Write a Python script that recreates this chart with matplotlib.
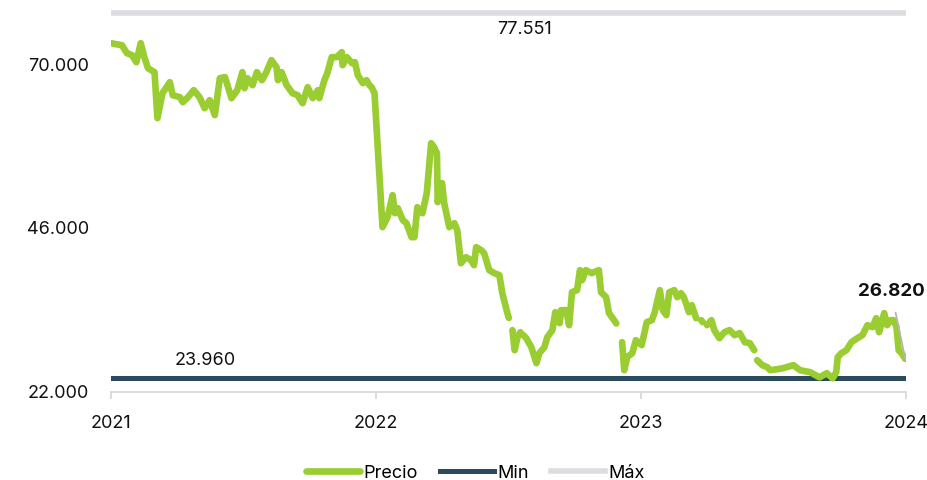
import matplotlib
matplotlib.use("Agg")
import matplotlib.pyplot as plt
import numpy as np
import pandas as pd

plt.rcParams['font.family'] = ['Inter', 'DejaVu Sans']

# price series, NaN = gap in the line
dates = [
    '2021-01-01', '2021-01-08', '2021-01-16', '2021-01-23', '2021-01-30', '2021-02-05',
    '2021-02-11', '2021-02-16', '2021-02-21', '2021-03-02', '2021-03-06', '2021-03-13',
    '2021-03-23', '2021-03-27', '2021-04-06', '2021-04-10', '2021-04-17', '2021-04-25',
    '2021-05-03', '2021-05-10', '2021-05-17', '2021-05-24', '2021-05-31', '2021-06-07',
    '2021-06-16', '2021-06-24', '2021-07-01', '2021-07-04', '2021-07-08', '2021-07-15',
    '2021-07-21', '2021-07-28', '2021-08-03', '2021-08-10', '2021-08-17', '2021-08-19',
    '2021-08-24', '2021-08-31', '2021-09-08', '2021-09-15', '2021-09-22', '2021-09-29',
    '2021-10-06', '2021-10-13', '2021-10-15', '2021-10-22', '2021-10-26', '2021-11-01',
    '2021-11-08', '2021-11-15', '2021-11-16', '2021-11-22', '2021-11-29', '2021-12-03',
    '2021-12-07', '2021-12-14', '2021-12-19', '2021-12-23', '2021-12-26', '2021-12-30',
    '2022-01-10', '2022-01-17', '2022-01-24', '2022-01-27', '2022-01-31', '2022-02-07',
    '2022-02-12', '2022-02-19', '2022-02-23', '2022-02-27', '2022-03-06', '2022-03-12',
    '2022-03-18', '2022-03-22', '2022-03-26', '2022-03-27', '2022-04-02', '2022-04-05',
    '2022-04-12', '2022-04-19', '2022-04-23', '2022-04-28', '2022-05-05', '2022-05-12',
    '2022-05-16', '2022-05-19', '2022-05-26', '2022-05-30', '2022-06-06', '2022-06-13',
    '2022-06-20', '2022-06-24', '2022-07-01', '2022-07-03', '2022-07-05', '2022-07-08',
    '2022-07-11', '2022-07-15', '2022-07-19', '2022-07-21', '2022-07-23', '2022-07-27',
    '2022-08-03', '2022-08-10', '2022-08-14', '2022-08-21', '2022-08-25', '2022-09-01',
    '2022-09-05', '2022-09-11', '2022-09-13', '2022-09-20', '2022-09-24', '2022-09-28',
    '2022-10-05', '2022-10-09', '2022-10-12', '2022-10-17', '2022-10-25', '2022-11-04',
    '2022-11-07', '2022-11-14', '2022-11-18', '2022-11-25', '2022-11-28', '2022-12-01',
    '2022-12-06', '2022-12-09', '2022-12-13', '2022-12-20', '2022-12-25', '2023-01-02',
    '2023-01-09', '2023-01-16', '2023-01-20', '2023-01-27', '2023-01-31', '2023-02-05',
    '2023-02-09', '2023-02-16', '2023-02-20', '2023-02-25', '2023-03-01', '2023-03-04',
    '2023-03-08', '2023-03-12', '2023-03-18', '2023-03-21', '2023-03-25', '2023-03-27',
    '2023-03-30', '2023-04-02', '2023-04-08', '2023-04-12', '2023-04-19', '2023-04-26',
    '2023-05-03', '2023-05-10', '2023-05-17', '2023-05-24', '2023-05-31', '2023-06-06',
    '2023-06-08', '2023-06-10', '2023-06-17', '2023-06-24', '2023-06-28', '2023-07-08',
    '2023-07-16', '2023-07-30', '2023-08-08', '2023-08-22', '2023-09-04', '2023-09-14',
    '2023-09-22', '2023-09-27', '2023-09-29', '2023-10-04', '2023-10-11', '2023-10-18',
    '2023-10-26', '2023-11-02', '2023-11-09', '2023-11-16', '2023-11-21', '2023-11-25',
    '2023-12-02', '2023-12-06', '2023-12-11', '2023-12-15', '2023-12-19', '2023-12-22',
    '2023-12-26', '2023-12-31',
]
precio = [
    73080, 72930, 72790, 71610, 71320, 70290,
    73080, 71030, 69410, 68830, 62090, 65750,
    67360, 65460, 65160, 64430, 65160, 66190,
    65160, 63550, 64720, 62530, 67950, 68100,
    65020, 66190, 68830, 66480, 67950, 66920,
    68830, 67660, 68830, 70590, 69560, 67660,
    68830, 66920, 65750, 65460, 64280, 66630,
    65020, 66190, 65020, 67660, 68680, 71030,
    71030, 71760, 69850, 71030, 70150, 70290,
    68390, 67220, 67660, 66920, 66630, 65750,
    46110, 47580, 50800, 48160, 48900, 47140,
    46700, 44650, 44650, 49040, 48160, 51090,
    58420, 57840, 56960, 49780, 52560, 49630,
    46110, 46700, 45670, 40830, 41710, 41270,
    40540, 43180, 42740, 42300, 39810, 39370,
    39080, 36440, 33510, 32800, np.nan, 31020,
    28080, 29990, 30720, np.nan, 30300, 29840,
    28520, 26180, 27640, 28520, 29990, 31020,
    33650, 32040, 33950, 33950, 31750, 36580,
    36880, 39810, 38340, 39810, 39370, 39810,
    36580, 35850, 33510, 32480, 32000, np.nan,
    29260, 25150, 27060, 27640, 29550, 28820,
    32190, 32480, 33650, 36880, 33950, 33210,
    36580, 36880, 35850, 36440, 35850, 34970,
    33650, 34680, 32770, np.nan, 32480, 32190,
    np.nan, 31750, 32480, 31020, 29840, 30720,
    31020, 30280, 30580, 29260, 29110, 28080,
    np.nan, 26620, 25890, 25590, 25150, 25300,
    25450, 25890, 25150, 24860, 24100, 24710,
    23960, 24860, 27060, 27640, 28080, 29260,
    29840, 30280, 31750, 31460, 32770, 30720,
    33510, 31750, 32480, 32480, 31460, 28080,
    27640, 26820,
]

precio_min = 23960
precio_max = 77551
ultimo = 26820
year_ticks = ['2021-01-01', '2022-01-01', '2023-01-01', '2024-01-01']
year_labels = ['2021', '2022', '2023', '2024']
y_ticks = [22000, 46000, 70000]

verde = '#9acd32'
azul = '#2c4a5e'
gris = '#dcdde0'

x = pd.to_datetime(dates)
x_start = pd.Timestamp(year_ticks[0])
x_end = pd.Timestamp(year_ticks[-1])

fig = plt.figure(figsize=(9.27, 4.8), dpi=100)
ax = fig.add_axes([0.1197, 0.184, 0.8576, 0.796])

ax.plot(x, precio, color=verde, lw=4.8, solid_capstyle='round',
        solid_joinstyle='round', label='Precio', zorder=3)
ax.plot([x_start, x_end], [precio_min, precio_min], color=azul, lw=3.6,
        label='Min', zorder=2)
ax.plot([x_start, x_end], [precio_max, precio_max], color=gris, lw=4,
        label='Máx', zorder=2)

ax.text(pd.Timestamp('2021-05-11'), precio_min + 1300, '23.960', fontsize=13,
        ha='center', va='bottom', color='#111111')
ax.text(pd.Timestamp('2022-07-25'), precio_max - 1200, '77.551', fontsize=13,
        ha='center', va='top', color='#111111')
ax.annotate('26.820', xy=(x[-1], ultimo), xytext=(-14, 67), textcoords='offset pixels',
            fontsize=13.5, fontweight='bold', ha='center', va='center', color='#111111',
            arrowprops=dict(arrowstyle='-', color='#b5b5b5', lw=1.3, shrinkA=7, shrinkB=0))

ax.set_xlim(x_start, x_end)
ax.set_ylim(22000, 78000)
ax.set_xticks(pd.to_datetime(year_ticks))
ax.set_xticklabels(year_labels)
ax.set_yticks(y_ticks)
ax.set_yticklabels([f'{v:,}'.replace(',', '.') for v in y_ticks])

for s in ['top', 'right', 'left']:
    ax.spines[s].set_visible(False)
ax.spines['bottom'].set_color('#d9d9d9')
ax.spines['bottom'].set_linewidth(1.3)
ax.tick_params(axis='x', length=5, color='#d9d9d9', width=1.3, labelsize=13,
               pad=12, labelcolor='#111111')
ax.tick_params(axis='y', length=0, labelsize=13, pad=16, labelcolor='#111111')

fig.legend(loc='center', bbox_to_anchor=(0.513, 0.014), ncol=3, frameon=False,
           fontsize=13, handlelength=3.0, handletextpad=0.2, columnspacing=1.2)

fig.savefig('out.png', dpi=100)
